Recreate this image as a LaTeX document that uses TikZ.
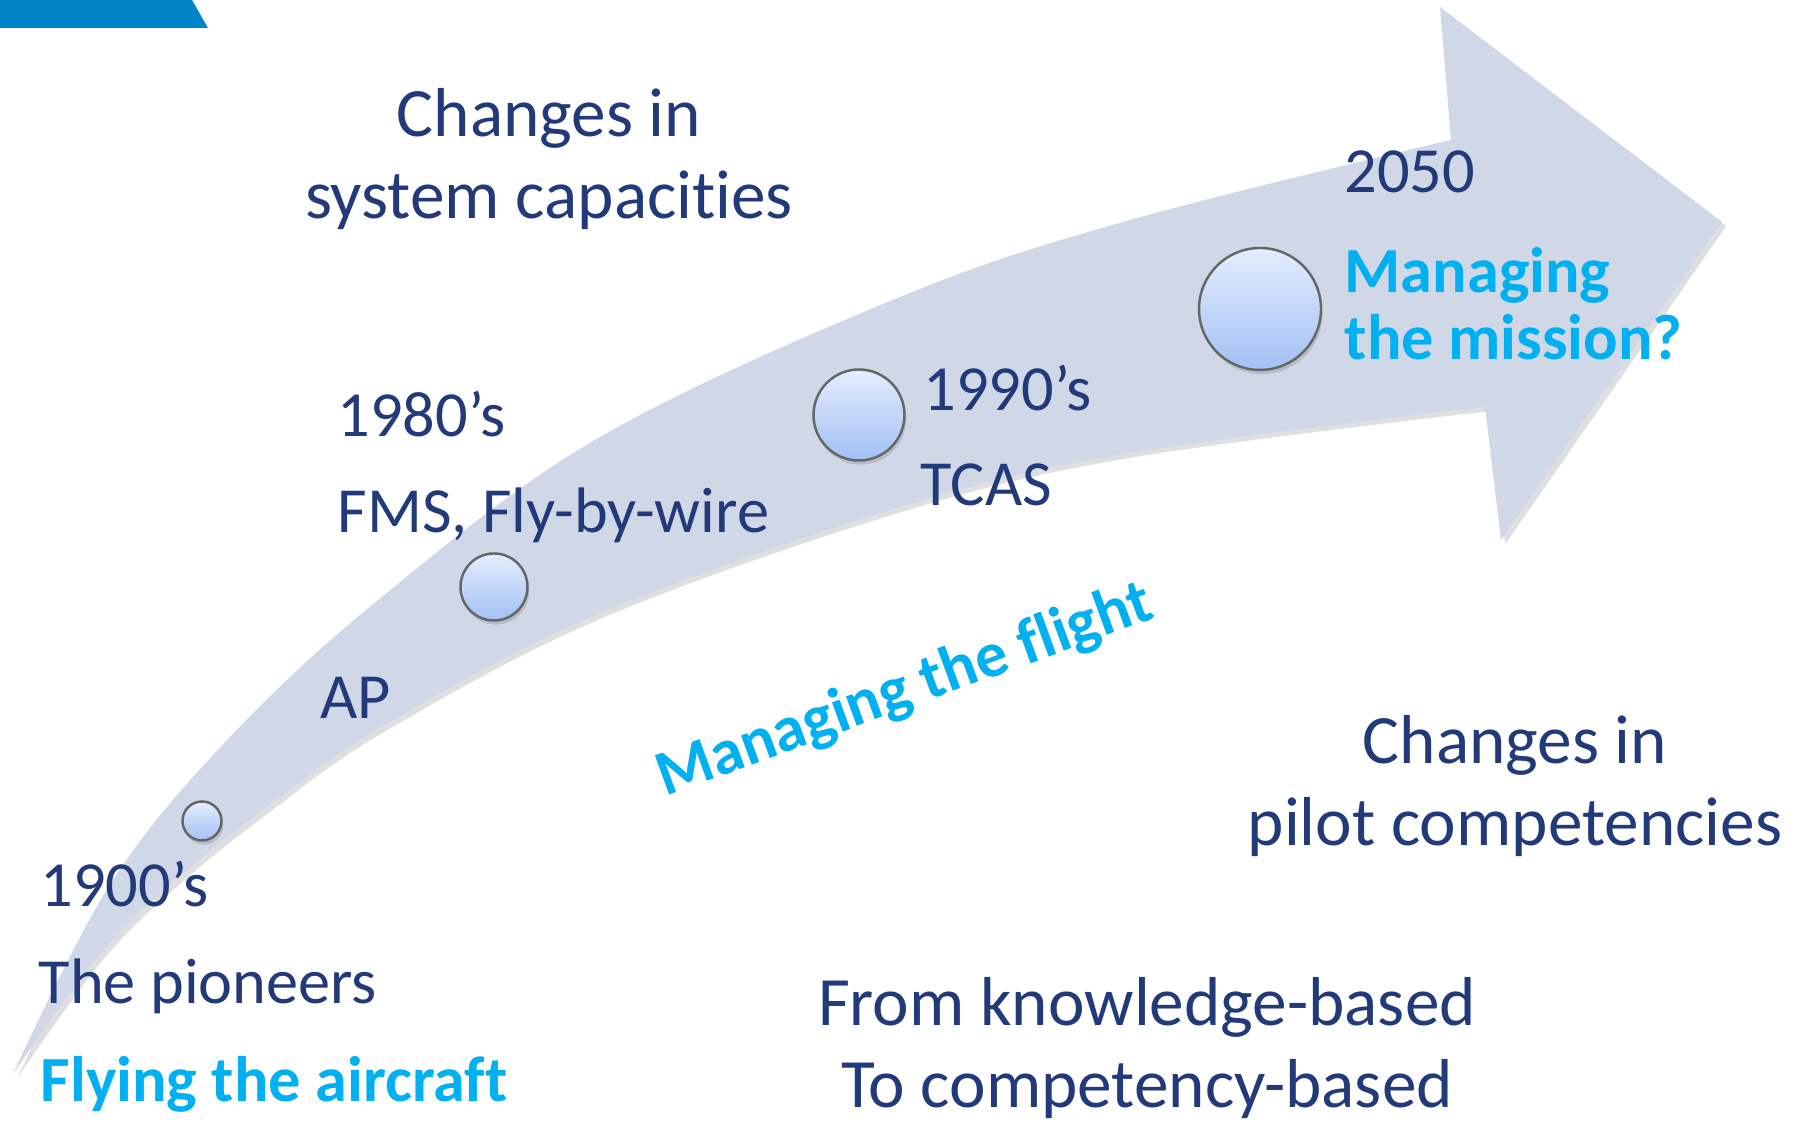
\documentclass[tikz,border=0pt]{standalone}
\usepackage{fontspec}
\setmainfont{Carlito}[Ligatures={TeX,NoCommon}]
\usetikzlibrary{shadows}
\definecolor{navy}{HTML}{22397A}
\definecolor{sky}{HTML}{00B0F0}
\definecolor{band}{HTML}{D0D8E8}
\definecolor{corner}{HTML}{0084C8}
\definecolor{bubtop}{HTML}{E4EDFD}
\definecolor{bubbot}{HTML}{A2C0F5}

\begin{document}
\begin{tikzpicture}[
    txt/.style={text=navy,font=\fontsize{18.3}{23}\selectfont,inner sep=0pt},
    big/.style={txt,font=\fontsize{19.7}{23.4}\selectfont,align=center,anchor=base},
    hot/.style={text=sky,font=\fontsize{18.3}{23}\selectfont\bfseries,inner sep=0pt},
    bub/.style={circle,draw=black!60,line width=0.7pt,top color=bubtop,bottom color=bubbot,inner sep=0pt,
      drop shadow={shadow xshift=0.5pt,shadow yshift=-1.2pt,opacity=0.3}}
  ]
  \useasboundingbox (0,0) rectangle (18.04,11.24);
  \fill[corner] (0,11.24) -- (1.92,11.24) -- (2.08,10.96) -- (0,10.96) -- cycle;

  \path
  (0.13,0.50) coordinate(tail)
  (14.51,9.84) coordinate(neckup)
  (14.40,11.17) coordinate(top)
  (17.22,9.02) coordinate(tip)
  (15.01,5.84) coordinate(bot)
  (14.85,7.17) coordinate(necklo)
  ;
  \fill[band,drop shadow={shadow xshift=1.2pt,shadow yshift=-1.2pt,opacity=0.25}]
    plot[smooth,tension=0.6] coordinates {(tail) (1.11,2.41) (2.30,3.87) (3.83,5.28) (6.00,6.87) (9.00,8.27) (11.30,9.04) (neckup)}
    -- (top) -- (tip) -- (bot) -- (necklo)
    -- plot[smooth,tension=0.6] coordinates {(necklo) (11.30,6.71) (9.00,6.17) (6.00,5.11) (3.83,3.98) (2.68,3.18) (1.72,2.41) (0.96,1.65) (tail)}
    -- cycle;

  \path
  (2.02,3.03) node[bub,minimum size=0.39cm](b1900) {}
  (4.94,5.37) node[bub,minimum size=0.67cm](b1980) {}
  (8.59,7.09) node[bub,minimum size=0.91cm](b1990) {}
  (12.60,8.15) node[bub,minimum size=1.22cm](b2050) {}
  ;

  \path
  (5.49,9.05) node[big](capa) {Changes in\\system capacities}
  (3.37,6.87) node[txt,anchor=base west](y1980) {1980’s}
  (3.37,5.91) node[txt,anchor=base west](fms) {FMS, Fly-by-wire}
  (3.20,4.05) node[txt,anchor=base west](ap) {AP}
  (9.23,7.13) node[txt,anchor=base west](y1990) {1990’s}
  (9.20,6.18) node[txt,anchor=base west](tcas) {TCAS}
  (13.44,9.31) node[txt,anchor=base west](y2050) {2050}
  (13.44,7.64) node[hot,anchor=base west,align=left,font=\fontsize{18.3}{19.3}\selectfont\bfseries](mission) {Managing\\the mission?}
  (0.40,2.17) node[txt,anchor=base west](y1900) {1900’s}
  (0.38,1.20) node[txt,anchor=base west](pion) {The pioneers}
  (0.40,0.22) node[hot,anchor=base west](fly) {Flying the aircraft}
  (9.05,4.33) node[hot,rotate=20](flight) {Managing the flight}
  (15.15,2.78) node[big](pilot) {Changes in\\pilot competencies}
  (11.47,0.16) node[big](know) {From knowledge-based\\To competency-based}
  ;
\end{tikzpicture}
\end{document}
